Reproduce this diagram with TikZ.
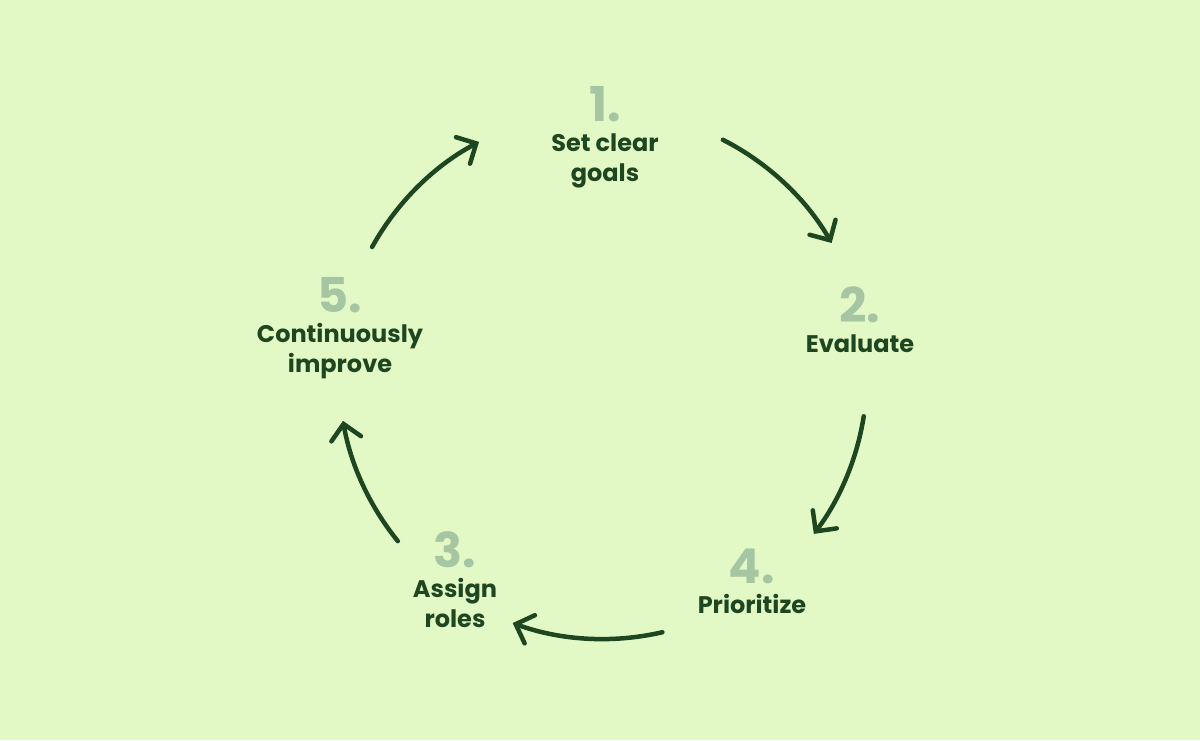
\documentclass[tikz,border=0pt]{standalone}
\usepackage{fontspec}
\setmainfont{Poppins}
\usepackage{tikz}
\usetikzlibrary{calc,arrows.meta}
\definecolor{bgreen}{HTML}{E2F9C6}
\definecolor{dgreen}{HTML}{1E4620}
\definecolor{lgreen}{HTML}{A6C6A3}
\tikzset{
  num/.style={anchor=base, text=lgreen, font=\fontsize{48}{48}\selectfont\bfseries, inner sep=0pt},
  lbl/.style={anchor=base, text=dgreen, align=center, inner sep=0pt,
    font=\fontsize{24}{30}\selectfont\bfseries},
  cyc/.style={draw=dgreen, line width=4.5pt, line cap=round,
    -{Straight Barb[length=15pt, width=30pt, line cap=round]}}
}
\begin{document}
\begin{tikzpicture}[x=1pt, y=1pt]
        \fill[bgreen] (0,0) rectangle (1200,740);
        \useasboundingbox (0,0) rectangle (1200,740);
        \coordinate (c) at (603,365);
        \foreach \x/\y/\n/\d/\t in {605/618/1/60/{Set clear\\goals}, 860/417/2/30/{Evaluate},
            455/173/3/60/{Assign\\roles}, 752/157/4/30/{Prioritize}, 340/427/5/60/{Continuously\\improve}}
        {
        \node[num] (n\n) at (\x,\y) {\n.};
        \node[lbl] (t\n) at ([yshift=-\d pt]n\n.base) {\t};
        }
        \foreach \a/\b/\k in {63/30/1, -9/-37/2, -77/-110/3, -141/-170/4, 151/118/5}
        {
        \coordinate (s\k) at ($(c)+(\a:264)$);
        \draw[cyc] (s\k) arc[start angle=\a, end angle=\b, radius=264];
        }
    \end{tikzpicture}
\end{document}
